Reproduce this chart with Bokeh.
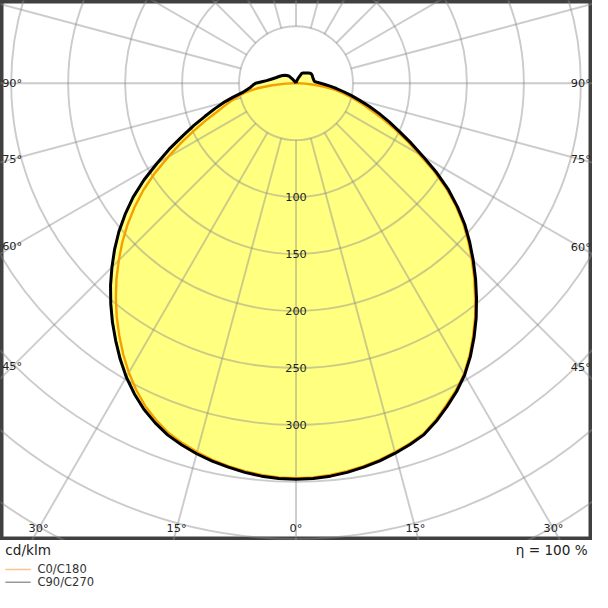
import numpy as np
from bokeh.plotting import figure
from bokeh.models import Range1d
from bokeh.layouts import column
from bokeh.embed import file_html
from bokeh.resources import INLINE
from bokeh.core.properties import value

# ---------------- data (cd/klm, gamma = angle from nadir in degrees) ----------------
gamma = [0, 2.5, 5, 7.5, 10, 12.5, 15, 17.5, 20, 22.5, 25, 27.5, 30, 32.5, 35, 37.5, 40, 42.5,
         45, 47.5, 50, 52.5, 55, 57.5, 60, 62.5, 65, 67.5, 70, 72.5, 75, 77.5, 80, 82.5, 85, 87.5,
         90, 92.5, 95, 100, 105, 110, 115, 120, 125, 130, 135, 140, 145, 150, 155, 160, 165, 170,
         175, 180]
# C0/C180 (orange): right half C0, left half C180
c0 = [347, 346.6, 345.5, 343.8, 341.5, 338.8, 335.5, 332, 327.5, 320.3, 312, 304, 295, 283.5, 271,
      258.3, 244.5, 231.5, 218, 205, 191.5, 176.8, 161, 143.5, 125, 110, 96, 83, 70.5, 61, 52, 43.5,
      35.5, 26, 16, 8, 2, 0.5, 0, 0, 0, 0, 0, 0, 0, 0, 0, 0, 0, 0, 0, 0, 0, 0, 0, 0]
c180 = [347, 346.6, 345.5, 343.8, 341.5, 338.8, 335.5, 331.5, 327, 320.5, 313, 303.8, 293.5, 282.3,
        270.5, 258.5, 246, 233.3, 220, 206.8, 193, 178.5, 163.5, 147, 129.5, 114, 99, 86, 74, 65.5,
        58, 51.5, 44.5, 34, 21, 9, 2, 0.5, 0, 0, 0, 0, 0, 0, 0, 0, 0, 0, 0, 0, 0, 0, 0, 0, 0, 0]
# C90/C270 (black): right half C90, left half C270
c90 = [348, 347.6, 346.5, 344.8, 342.5, 339.8, 336.5, 332.8, 328.5, 321.5, 313.5, 305.3, 296, 284.8,
       272.5, 259.8, 246.5, 233.3, 220, 206.8, 193.5, 178.8, 163.5, 146.5, 129, 114, 100, 88.3, 77.5,
       67.3, 57.5, 49.5, 42, 35.8, 30, 25.3, 21.5, 18.5, 16.5, 15.8, 15.6, 15.6, 15.8, 15.8, 15.3, 14,
       12.8, 11.8, 11, 10, 5.5, 3, 1.5, 0.5, 0, 0]
c270 = [348, 347.6, 346.5, 344.8, 342.5, 340, 337, 333.3, 329, 323, 316, 307.5, 298, 287.3, 276,
        264.7, 253, 241, 228.5, 216, 203, 189, 174.5, 158.3, 141, 125.5, 110, 97, 85, 75, 66, 56.5, 48,
        43.5, 40, 37.8, 35.5, 30, 26, 21.5, 18.5, 16.5, 15, 13.6, 12, 10.6, 9, 4, 1.5, 0.5, 0, 0, 0, 0,
        0, 0]

ring_values = [50, 100, 150, 200, 250, 300, 350, 400, 450, 500, 550]
ring_labels = [100, 150, 200, 250, 300]
spoke_angles = list(range(0, 360, 15))
side_labels = [90, 75, 60, 45]
bottom_labels = [-30, -15, 0, 15, 30]
unit_text = "cd/klm"
eta_text = "η = 100 %"
series_names = ["C0/C180", "C90/C270"]

# ---------------- styling / layout ----------------
FONT = value("DejaVu Sans")
U = 1.17                 # reference px per cd/klm
CX, CY = 303.5, 85.0     # reference centre
TOP_H = 540

fill_col = "#ffff80"
grid_col = "#8c8c8c"
orange = "#f5a000"
black = "#000000"

p = figure(width=592, height=TOP_H,
           x_range=Range1d(-CX / U, (608 - CX) / U),
           y_range=Range1d(-(555 - CY) / U, CY / U),
           toolbar_location=None, output_backend="svg",
           x_axis_type=None, y_axis_type=None, min_border=0)
p.grid.visible = False
p.outline_line_color = "#404040"
p.outline_line_width = 6
p.background_fill_color = "white"


def outline(left, right):
    g = np.radians(np.array(gamma, dtype=float))
    l = np.array(left, dtype=float)
    r = np.array(right, dtype=float)
    lx, ly = -l * np.sin(g), -l * np.cos(g)
    rx, ry = r * np.sin(g), -r * np.cos(g)
    xs = np.concatenate([lx[::-1], rx[1:]])
    ys = np.concatenate([ly[::-1], ry[1:]])
    return xs, ys


bx, by = outline(c270, c90)
ox, oy = outline(c180, c0)

# fill
p.patch(bx, by, fill_color=fill_col, line_color=None)
p.patch(ox, oy, fill_color=fill_col, line_color=None)

# grid: rings and spokes
p.circle(x=[0] * len(ring_values), y=[0] * len(ring_values), radius=ring_values,
         fill_color=None, line_color=grid_col, line_alpha=0.45, line_width=1.9)
sa = np.radians(spoke_angles)
r0, r1 = ring_values[0], 700
p.segment(x0=r0 * np.sin(sa), y0=-r0 * np.cos(sa), x1=r1 * np.sin(sa), y1=-r1 * np.cos(sa),
          line_color=grid_col, line_alpha=0.45, line_width=1.9)

# curves
p.line(ox, oy, line_color=orange, line_width=2.4, line_join="round")
p.line(bx, by, line_color=black, line_width=3.0, line_join="round")

# ring labels
p.text(x=[0] * len(ring_labels), y=[-v for v in ring_labels], text=[str(v) for v in ring_labels],
       text_align="center", text_baseline="middle", text_font=FONT,
       text_font_size="11.3px", text_color="#222222")

# side angle labels
XL = (CX - 12) / U
XR = (596 - CX) / U
txt_side = [f"{a}°" for a in side_labels]
ys_l = [0.0 if a == 90 else -XL / np.tan(np.radians(a)) for a in side_labels]
ys_r = [0.0 if a == 90 else -XR / np.tan(np.radians(a)) for a in side_labels]
p.text(x=[-XL] * len(side_labels), y=ys_l, text=txt_side, text_align="center",
       text_baseline="middle", text_font=FONT, text_font_size="11.3px", text_color="#222222")
p.text(x=[XR] * len(side_labels), y=ys_r, text=txt_side, text_align="center",
       text_baseline="middle", text_font=FONT, text_font_size="11.3px", text_color="#222222")

# bottom angle labels
YB = (543 - CY) / U
p.text(x=[YB * np.tan(np.radians(a)) for a in bottom_labels], y=[-YB] * len(bottom_labels),
       text=[f"{abs(a)}°" for a in bottom_labels], text_align="center", text_baseline="middle",
       text_font=FONT, text_font_size="11.3px", text_color="#222222")

# ---------------- bottom strip: unit, efficiency, legend ----------------
q = figure(width=592, height=592 - TOP_H, x_range=Range1d(0, 608), y_range=Range1d(608, 555),
           toolbar_location=None, output_backend="svg", x_axis_type=None, y_axis_type=None,
           min_border=0)
q.grid.visible = False
q.outline_line_color = None
q.text(x=[5], y=[565], text=[unit_text], text_align="left", text_baseline="middle",
       text_font=FONT, text_font_size="13.6px", text_color="#222222")
q.text(x=[603], y=[565], text=[eta_text], text_align="right", text_baseline="middle",
       text_font=FONT, text_font_size="13.6px", text_color="#222222")
leg_cols = ["#f9c58a", "#999999"]
leg_y = [584.5, 597.5]
for name, col, yy in zip(series_names, leg_cols, leg_y):
    q.line(x=[5, 31], y=[yy, yy], line_color=col, line_width=1.6)
    q.text(x=[38], y=[yy], text=[name], text_align="left", text_baseline="middle",
           text_font=FONT, text_font_size="11.5px", text_color="#333333")

layout = column(p, q, spacing=0)
open("out.html", "w").write(file_html(layout, INLINE))
